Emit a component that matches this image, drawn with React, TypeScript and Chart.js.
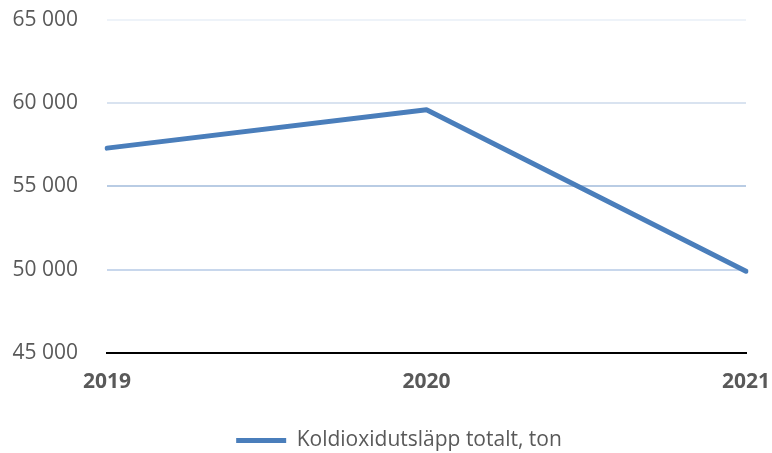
import React, { useEffect, useRef } from "react";
import { Chart, registerables } from "chart.js";

Chart.register(...registerables);

const categories = ["2019", "2020", "2021"];
const seriesLabel = "Koldioxidutsläpp totalt, ton";
const seriesValues = [57300, 59600, 49900];
const yMin = 45000;
const yMax = 65000;
const yStep = 5000;

const gridColors: Record<number, string> = {
  65000: "#eef3f9",
  60000: "#d9e3f0",
  55000: "#b9cce4",
  50000: "#c8d7ec",
  45000: "rgba(0,0,0,0)",
};

const FONT = "'Open Sans', 'Noto Sans', sans-serif";

const fmt = (v: number) => {
  const s = Math.round(v).toString();
  return s.replace(/\B(?=(\d{3})+(?!\d))/g, " ");
};

const legendShift = {
  id: "legendShift",
  afterLayout(chart: any) {
    if (chart.legend) {
      chart.legend.left += 26;
      chart.legend.right += 26;
    }
  },
};

export default function App() {
  const ref = useRef<HTMLCanvasElement | null>(null);
  useEffect(() => {
    document.body.style.margin = "0";
    if (!ref.current) return;
    const chart = new Chart(ref.current, {
      type: "line",
      data: {
        labels: categories,
        datasets: [
          {
            label: seriesLabel,
            data: seriesValues,
            borderColor: "#4a7ebb",
            backgroundColor: "#4a7ebb",
            borderWidth: 5,
            pointRadius: 0,
            borderCapStyle: "round",
            borderJoinStyle: "round",
            tension: 0,
          },
        ],
      },
      plugins: [legendShift],
      options: {
        animation: false,
        responsive: false,
        maintainAspectRatio: false,
        layout: { autoPadding: false, padding: { top: 20, right: 26, bottom: -8, left: 0 } },
        plugins: {
          tooltip: { enabled: false },
          legend: {
            position: "bottom",
            labels: {
              usePointStyle: true,
              pointStyle: "line",
              pointStyleWidth: 50,
              boxHeight: 5,
              padding: 14,
              color: "#595959",
              font: { family: FONT, size: 21 },
            },
          },
        },
        scales: {
          x: {
            offset: false,
            afterFit: (scale: any) => {
              scale.height += 4;
              scale.paddingTop = 0;
              scale.paddingLeft = 0;
              scale.paddingRight = 0;
            },
            grid: { display: false, drawTicks: false },
            border: { display: true, color: "#000000", width: 2 },
            ticks: {
              color: "#595959",
              padding: 17,
              maxRotation: 0,
              font: { family: FONT, size: 21, weight: "bold" },
            },
          },
          y: {
            min: yMin,
            max: yMax,
            afterFit: (scale: any) => {
              scale.width = 107;
              scale.paddingTop = 0;
              scale.paddingBottom = 0;
            },
            grid: {
              drawTicks: false,
              lineWidth: 2,
              color: (ctx: any) => gridColors[ctx.tick?.value] ?? "#d9e3f0",
            },
            border: { display: false },
            ticks: {
              stepSize: yStep,
              padding: 29,
              color: "#595959",
              font: { family: FONT, size: 21 },
              callback: (v: any) => fmt(Number(v)),
            },
          },
        },
      },
    });
    return () => chart.destroy();
  }, []);
  return (
    <div style={{ width: 772, height: 453 }}>
      <canvas ref={ref} width={772} height={453} style={{ display: "block" }} />
    </div>
  );
}
